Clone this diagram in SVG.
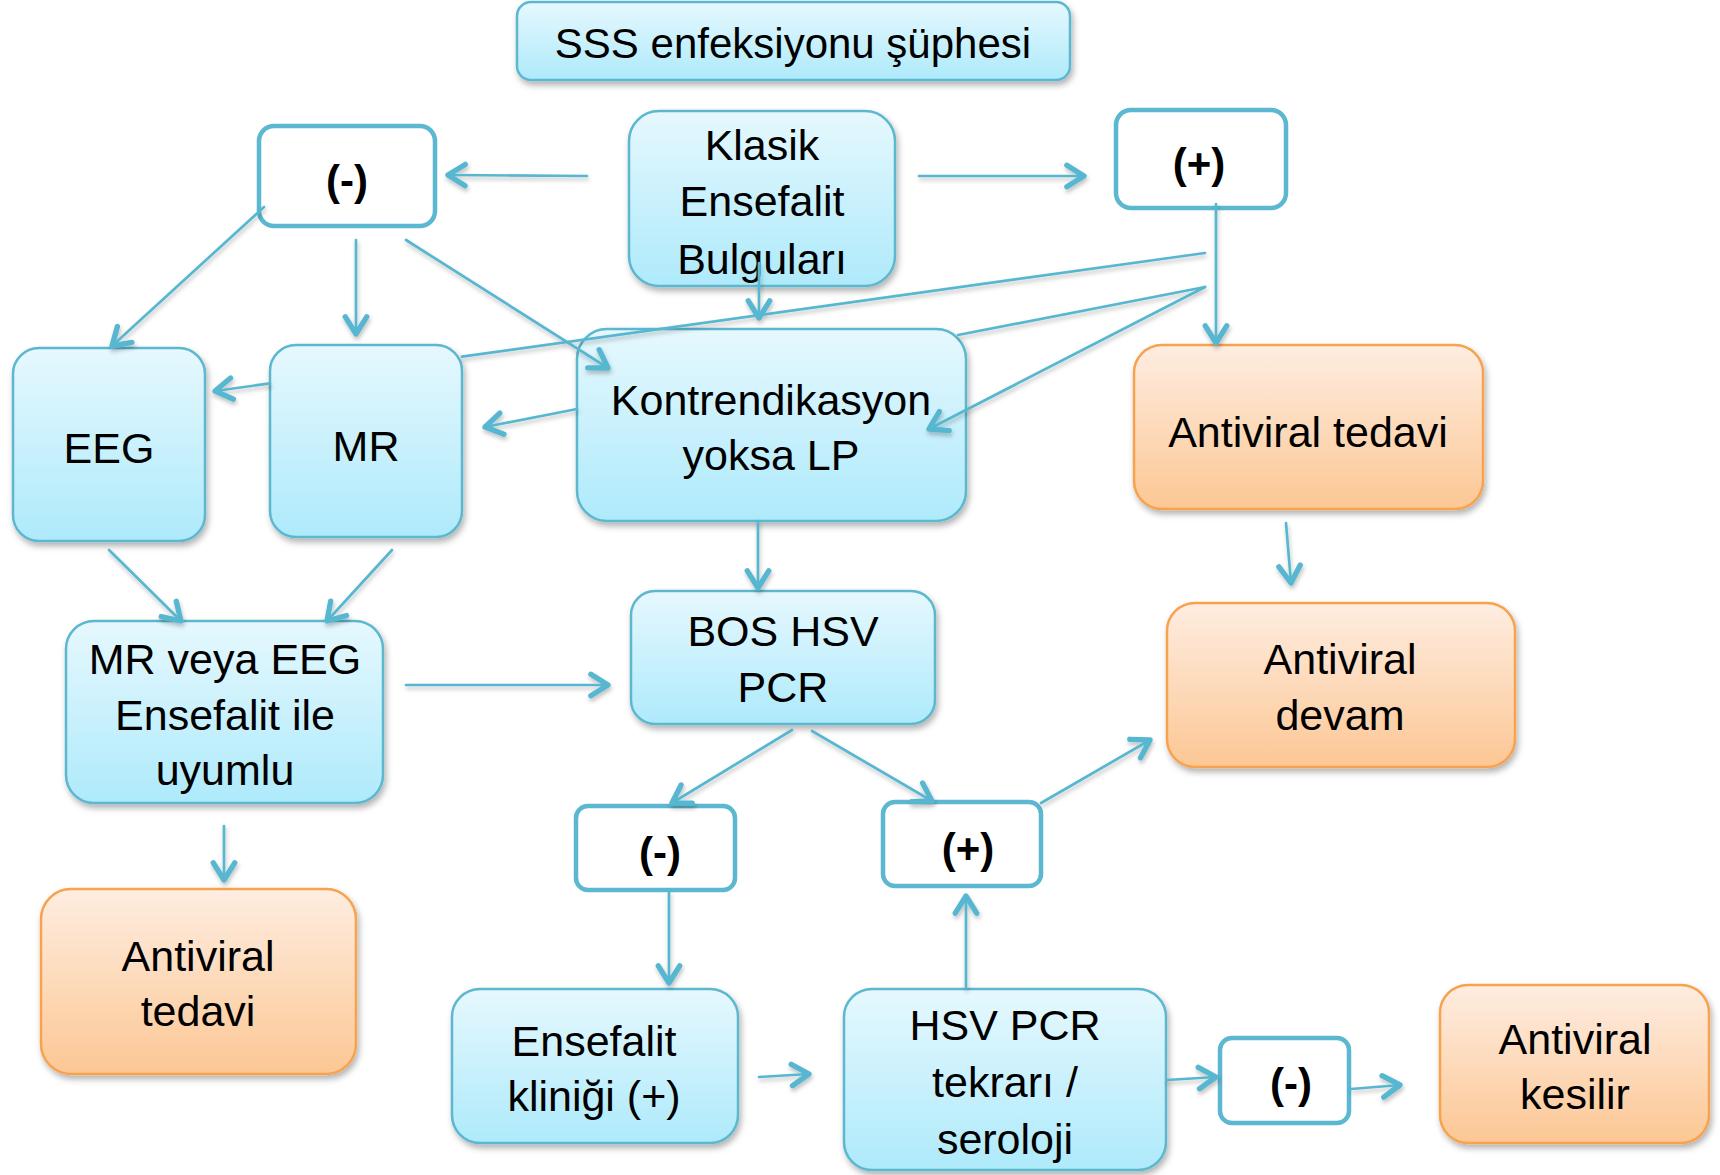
<svg xmlns="http://www.w3.org/2000/svg" width="1720" height="1175" viewBox="0 0 1720 1175">
<defs>
<linearGradient id="gBlue" x1="0" y1="0" x2="0" y2="1">
<stop offset="0" stop-color="#e6f8fe"/>
<stop offset="1" stop-color="#aeeafb"/>
</linearGradient>
<linearGradient id="gOrange" x1="0" y1="0" x2="0" y2="1">
<stop offset="0" stop-color="#feede1"/>
<stop offset="1" stop-color="#fcc794"/>
</linearGradient>
<filter id="shadow" x="-10%" y="-10%" width="125%" height="130%">
<feDropShadow dx="2" dy="4" stdDeviation="3" flood-color="#000" flood-opacity="0.3"/>
</filter>
<filter id="lshadow" x="-10%" y="-10%" width="125%" height="130%">
<feDropShadow dx="1" dy="3" stdDeviation="2" flood-color="#000" flood-opacity="0.25"/>
</filter>
<marker id="arr" markerUnits="userSpaceOnUse" markerWidth="30" markerHeight="30" viewBox="-20 -14 26 28" refX="0" refY="0" orient="auto">
<path d="M-16,-10 L0,0 L-16,10" fill="none" stroke="#59b7d0" stroke-width="5" stroke-linecap="round" stroke-linejoin="round"/>
</marker>
<style>
.blue{fill:url(#gBlue);stroke:#5bb7cf;stroke-width:2.5;filter:url(#shadow)}
.orange{fill:url(#gOrange);stroke:#f7a24f;stroke-width:2.5;filter:url(#shadow)}
.white{fill:#ffffff;stroke:#5bb8d0;stroke-width:4.5}
.t{font-family:"Liberation Sans",Arial,sans-serif;font-size:43px;fill:#000;text-anchor:middle}
.b{font-family:"Liberation Sans",Arial,sans-serif;font-size:42px;font-weight:bold;fill:#000;text-anchor:middle}
.c{fill:none;stroke:#59b7d0;stroke-width:2.7;stroke-linecap:round}
.h{marker-end:url(#arr)}
</style>
</defs>
<rect width="1720" height="1175" fill="#ffffff"/>

<g id="n-title">
<rect class="blue" x="517" y="2" width="553" height="78" rx="14"/>
<text class="t" x="793" y="58" style="font-size:42px">SSS enfeksiyonu şüphesi</text>
</g>
<g id="n-klasik">
<rect class="blue" x="629" y="111" width="266" height="175" rx="30"/>
<text class="t" x="762" y="160">Klasik</text>
<text class="t" x="762" y="216">Ensefalit</text>
<text class="t" x="762" y="274">Bulguları</text>
</g>
<g id="n-neg1">
<rect class="white" x="259" y="126" width="176" height="100" rx="15"/>
<text class="b" x="347" y="195">(-)</text>
</g>
<g id="n-pos1">
<rect class="white" x="1116" y="110" width="170" height="98" rx="15"/>
<text class="b" x="1199" y="178">(+)</text>
</g>
<g id="n-eeg">
<rect class="blue" x="13" y="348" width="192" height="193" rx="26"/>
<text class="t" x="109" y="463">EEG</text>
</g>
<g id="n-mr">
<rect class="blue" x="270" y="345" width="192" height="192" rx="26"/>
<text class="t" x="366" y="461">MR</text>
</g>
<g id="n-kontr">
<rect class="blue" x="577" y="329" width="389" height="192" rx="30"/>
<text class="t" x="771" y="415">Kontrendikasyon</text>
<text class="t" x="771" y="470">yoksa LP</text>
</g>
<g id="n-av1">
<rect class="orange" x="1134" y="345" width="349" height="164" rx="28"/>
<text class="t" x="1308" y="447">Antiviral tedavi</text>
</g>
<g id="n-mrveya">
<rect class="blue" x="66" y="621" width="317" height="182" rx="28"/>
<text class="t" x="225" y="674">MR veya EEG</text>
<text class="t" x="225" y="730">Ensefalit ile</text>
<text class="t" x="225" y="785">uyumlu</text>
</g>
<g id="n-bos">
<rect class="blue" x="631" y="591" width="304" height="133" rx="24"/>
<text class="t" x="783" y="646">BOS HSV</text>
<text class="t" x="783" y="702">PCR</text>
</g>
<g id="n-avdevam">
<rect class="orange" x="1167" y="603" width="348" height="164" rx="28"/>
<text class="t" x="1340" y="674">Antiviral</text>
<text class="t" x="1340" y="730">devam</text>
</g>
<g id="n-neg2">
<rect class="white" x="576" y="806" width="159" height="84" rx="12"/>
<text class="b" x="660" y="867">(-)</text>
</g>
<g id="n-pos2">
<rect class="white" x="883" y="802" width="158" height="84" rx="12"/>
<text class="b" x="968" y="863">(+)</text>
</g>
<g id="n-av2">
<rect class="orange" x="41" y="889" width="315" height="185" rx="30"/>
<text class="t" x="198" y="971">Antiviral</text>
<text class="t" x="198" y="1026">tedavi</text>
</g>
<g id="n-ensefalit">
<rect class="blue" x="452" y="989" width="286" height="154" rx="28"/>
<text class="t" x="594" y="1056">Ensefalit</text>
<text class="t" x="594" y="1111">kliniği (+)</text>
</g>
<g id="n-hsv">
<rect class="blue" x="844" y="989" width="322" height="181" rx="28"/>
<text class="t" x="1005" y="1040">HSV PCR</text>
<text class="t" x="1005" y="1097">tekrarı /</text>
<text class="t" x="1005" y="1154">seroloji</text>
</g>
<g id="n-neg3">
<rect class="white" x="1220" y="1038" width="129" height="85" rx="12"/>
<text class="b" x="1291" y="1098">(-)</text>
</g>
<g id="n-kesilir">
<rect class="orange" x="1440" y="985" width="269" height="158" rx="28"/>
<text class="t" x="1575" y="1054">Antiviral</text>
<text class="t" x="1575" y="1109">kesilir</text>
</g>

<g id="connectors" filter="url(#lshadow)">
<path class="c h" d="M587,176 L448,175"/>
<path class="c h" d="M919,176 L1084,176"/>
<path class="c h" d="M264,207 L112,346"/>
<path class="c h" d="M356,240 L356,334"/>
<path class="c h" d="M406,240 L608,368"/>
<path class="c h" d="M759,263 L759,318"/>
<path class="c" d="M1205,253 L462,356.6"/>
<path class="c h" d="M270,383.4 L215,391"/>
<path class="c" d="M1205,287 L958,335"/>
<path class="c h" d="M577,409 L485,427"/>
<path class="c h" d="M1205,287 L929,429"/>
<path class="c h" d="M1216,204 L1216,343"/>
<path class="c h" d="M1286,523 L1291,583"/>
<path class="c h" d="M109,550 L181,621"/>
<path class="c h" d="M392,550 L327,621"/>
<path class="c h" d="M758,521 L758,588"/>
<path class="c h" d="M406,685 L608,685"/>
<path class="c h" d="M224,826 L224,880"/>
<path class="c h" d="M792,730 L672,803"/>
<path class="c h" d="M812,731 L932,801"/>
<path class="c h" d="M669,892 L669,983"/>
<path class="c h" d="M759,1077 L809,1074"/>
<path class="c h" d="M1041,803 L1150,740"/>
<path class="c h" d="M966,988 L966,896"/>
<path class="c h" d="M1167,1080 L1216,1077"/>
<path class="c h" d="M1351,1089 L1400,1085"/>
</g>
</svg>
